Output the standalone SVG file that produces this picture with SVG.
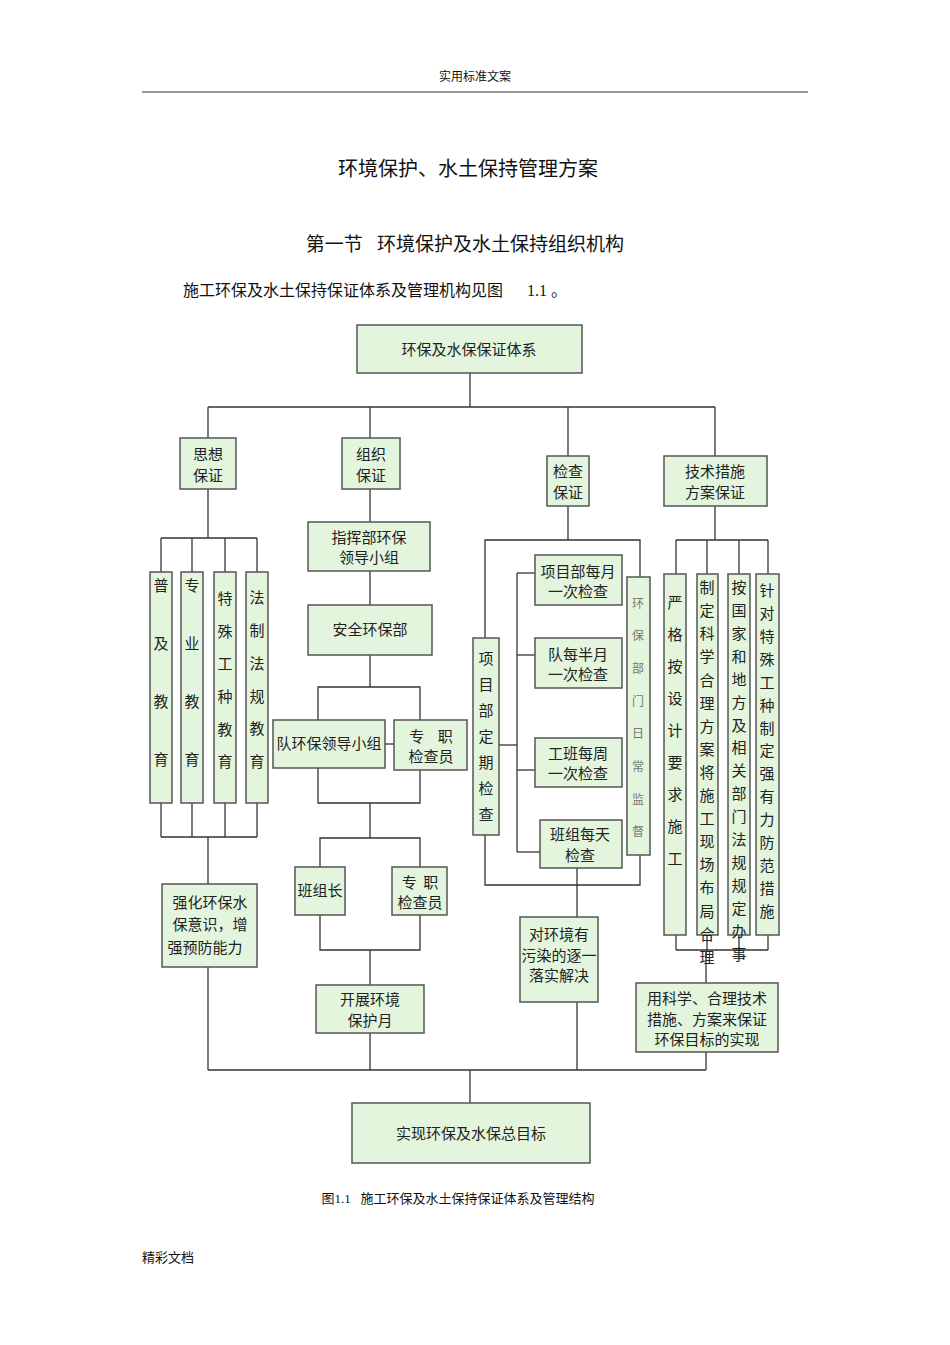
<svg xmlns="http://www.w3.org/2000/svg" width="950" height="1345" viewBox="0 0 950 1345">
<style>
.b{fill:#e3f5dd;stroke:#555;stroke-width:1.5}
.t{font-family:"Noto Sans CJK SC",sans-serif;font-size:15px;fill:#222;text-anchor:middle}
.v{font-family:"Noto Sans CJK SC",sans-serif;font-size:15px;fill:#222;writing-mode:vertical-rl}
.c line,.c polyline{stroke:#333;stroke-width:1.3;fill:none}
.d{font-family:"Liberation Serif","Noto Sans CJK SC",serif;fill:#111;text-anchor:middle}
</style>
<rect width="950" height="1345" fill="#fff"/>
<text class="d" x="475" y="81" font-size="12">实用标准文案</text>
<line x1="142" y1="92" x2="808" y2="92" stroke="#333"/>
<text class="d" x="468" y="176" font-size="20">环境保护、水土保持管理方案</text>
<text class="d" x="465" y="251" font-size="19" xml:space="preserve">第一节   环境保护及水土保持组织机构</text>
<text class="d" x="183" y="296" font-size="16" style="text-anchor:start" xml:space="preserve">施工环保及水土保持保证体系及管理机构见图      1.1 。</text>
<text class="d" x="458" y="1203" font-size="13" xml:space="preserve">图1.1   施工环保及水土保持保证体系及管理结构</text>
<text class="d" x="142" y="1262" font-size="13" style="text-anchor:start">精彩文档</text>
<g class="c">
<line x1="470" y1="373" x2="470" y2="407"/><line x1="208" y1="407" x2="715" y2="407"/>
<line x1="208" y1="407" x2="208" y2="438"/><line x1="370" y1="407" x2="370" y2="438"/><line x1="568" y1="407" x2="568" y2="456"/><line x1="715" y1="407" x2="715" y2="456"/>
<line x1="208" y1="489" x2="208" y2="538"/><line x1="161" y1="538" x2="257" y2="538"/>
<line x1="161" y1="538" x2="161" y2="572"/><line x1="192" y1="538" x2="192" y2="572"/><line x1="225" y1="538" x2="225" y2="572"/><line x1="257" y1="538" x2="257" y2="572"/>
<line x1="161" y1="803" x2="161" y2="837"/><line x1="192" y1="803" x2="192" y2="837"/><line x1="225" y1="803" x2="225" y2="837"/><line x1="257" y1="803" x2="257" y2="837"/>
<line x1="161" y1="837" x2="257" y2="837"/><line x1="208" y1="837" x2="208" y2="884"/>
<line x1="208" y1="967" x2="208" y2="1070"/><line x1="208" y1="1070" x2="706" y2="1070"/><line x1="470" y1="1070" x2="470" y2="1103"/>
<line x1="370" y1="489" x2="370" y2="522"/><line x1="370" y1="571" x2="370" y2="605"/><line x1="370" y1="655" x2="370" y2="687"/>
<polyline points="318,720 318,687 420,687 420,720"/><line x1="385" y1="744" x2="394" y2="744"/>
<polyline points="318,768 318,803 420,803 420,770"/><line x1="370" y1="803" x2="370" y2="838"/>
<polyline points="320,867 320,838 420,838 420,867"/>
<polyline points="320,915 320,950 420,950 420,915"/><line x1="370" y1="950" x2="370" y2="985"/><line x1="370" y1="1033" x2="370" y2="1070"/>
<line x1="568" y1="506" x2="568" y2="540"/><polyline points="485,638 485,540 640,540 640,577"/>
<polyline points="485,835 485,885 640,885 640,855"/>
<line x1="499" y1="745" x2="517" y2="745"/><line x1="517" y1="573" x2="517" y2="852"/>
<line x1="517" y1="573" x2="535" y2="573"/><line x1="517" y1="655" x2="535" y2="655"/><line x1="517" y1="770" x2="535" y2="770"/><line x1="517" y1="852" x2="540" y2="852"/>
<line x1="577" y1="868" x2="577" y2="917"/><line x1="577" y1="1002" x2="577" y2="1070"/>
<line x1="715" y1="506" x2="715" y2="540"/><line x1="676" y1="540" x2="768" y2="540"/>
<line x1="676" y1="540" x2="676" y2="574"/><line x1="707" y1="540" x2="707" y2="574"/><line x1="739" y1="540" x2="739" y2="574"/><line x1="768" y1="540" x2="768" y2="574"/>
<line x1="676" y1="935" x2="676" y2="950"/><line x1="707" y1="935" x2="707" y2="950"/><line x1="739" y1="935" x2="739" y2="950"/><line x1="768" y1="935" x2="768" y2="950"/>
<line x1="676" y1="950" x2="768" y2="950"/><line x1="706" y1="950" x2="706" y2="983"/><line x1="706" y1="1052" x2="706" y2="1070"/>
</g>
<g id="n-top"><rect class="b" x="357" y="325" width="225" height="48"/><text class="t" x="469" y="355">环保及水保保证体系</text></g>
<g id="n-sx"><rect class="b" x="180" y="438" width="56" height="51"/><text class="t" x="208" y="460">思想</text><text class="t" x="208" y="481">保证</text></g>
<g id="n-zz"><rect class="b" x="342" y="438" width="58" height="51"/><text class="t" x="371" y="460">组织</text><text class="t" x="371" y="481">保证</text></g>
<g id="n-jc"><rect class="b" x="547" y="456" width="42" height="50"/><text class="t" x="568" y="477">检查</text><text class="t" x="568" y="498">保证</text></g>
<g id="n-js"><rect class="b" x="664" y="456" width="103" height="50"/><text class="t" x="715" y="477">技术措施</text><text class="t" x="715" y="498">方案保证</text></g>
<g id="n-c1"><rect class="b" x="150" y="572" width="22" height="231"/><text class="v" x="161" y="578" letter-spacing="43">普及教育</text></g>
<g id="n-c2"><rect class="b" x="181" y="572" width="22" height="231"/><text class="v" x="192" y="578" letter-spacing="43">专业教育</text></g>
<g id="n-c3"><rect class="b" x="214" y="572" width="22" height="231"/><text class="v" x="225" y="591" letter-spacing="17.6">特殊工种教育</text></g>
<g id="n-c4"><rect class="b" x="246" y="572" width="22" height="231"/><text class="v" x="257" y="590" letter-spacing="17.8">法制法规教育</text></g>
<g id="n-qh"><rect class="b" x="162" y="884" width="95" height="83"/><text class="t" x="210" y="908">强化环保水</text><text class="t" x="210" y="930">保意识，增</text><text class="t" x="205" y="953">强预防能力</text></g>
<g id="n-zh"><rect class="b" x="308" y="522" width="122" height="49"/><text class="t" x="369" y="543">指挥部环保</text><text class="t" x="369" y="563">领导小组</text></g>
<g id="n-aq"><rect class="b" x="308" y="605" width="124" height="50"/><text class="t" x="370" y="635">安全环保部</text></g>
<g id="n-dh"><rect class="b" x="273" y="720" width="112" height="48"/><text class="t" x="329" y="749">队环保领导小组</text></g>
<g id="n-zj1"><rect class="b" x="394" y="720" width="73" height="50"/><text class="t" x="431" y="742" xml:space="preserve">专    职</text><text class="t" x="431" y="762">检查员</text></g>
<g id="n-bz"><rect class="b" x="295" y="867" width="50" height="48"/><text class="t" x="320" y="896">班组长</text></g>
<g id="n-zj2"><rect class="b" x="392" y="867" width="55" height="48"/><text class="t" x="420" y="888" xml:space="preserve">专  职</text><text class="t" x="420" y="908">检查员</text></g>
<g id="n-kz"><rect class="b" x="316" y="985" width="108" height="48"/><text class="t" x="370" y="1005">开展环境</text><text class="t" x="370" y="1026">保护月</text></g>
<g id="n-xm"><rect class="b" x="473" y="638" width="26" height="197"/><text class="v" x="486" y="651" letter-spacing="11">项目部定期检查</text></g>
<g id="n-m1"><rect class="b" x="535" y="555" width="87" height="50"/><text class="t" x="578" y="577">项目部每月</text><text class="t" x="578" y="597">一次检查</text></g>
<g id="n-m2"><rect class="b" x="535" y="638" width="87" height="50"/><text class="t" x="578" y="660">队每半月</text><text class="t" x="578" y="680">一次检查</text></g>
<g id="n-m3"><rect class="b" x="535" y="738" width="87" height="49"/><text class="t" x="578" y="759">工班每周</text><text class="t" x="578" y="779">一次检查</text></g>
<g id="n-m4"><rect class="b" x="540" y="820" width="82" height="48"/><text class="t" x="580" y="840">班组每天</text><text class="t" x="580" y="861">检查</text></g>
<g id="n-hb"><rect class="b" x="627" y="577" width="23" height="278"/><text class="v" x="638" y="597" letter-spacing="20.7" style="font-size:12px;fill:#777">环保部门日常监督</text></g>
<g id="n-dhj"><rect class="b" x="520" y="917" width="78" height="85"/><text class="t" x="559" y="940">对环境有</text><text class="t" x="559" y="961">污染的逐一</text><text class="t" x="559" y="981">落实解决</text></g>
<g id="n-r1"><rect class="b" x="664" y="574" width="22" height="361"/><text class="v" x="675" y="595" letter-spacing="17">严格按设计要求施工</text></g>
<g id="n-r2"><rect class="b" x="697" y="540" width="21" height="395" style="display:none"/><rect class="b" x="697" y="574" width="21" height="361"/><text class="v" x="707" y="580" letter-spacing="8.1">制定科学合理方案将施工现场布局合理</text></g>
<g id="n-r3"><rect class="b" x="728" y="574" width="22" height="361"/><text class="v" x="739" y="580" letter-spacing="7.9">按国家和地方及相关部门法规规定办事</text></g>
<g id="n-r4"><rect class="b" x="756" y="574" width="23" height="361"/><text class="v" x="767" y="583" letter-spacing="7.9">针对特殊工种制定强有力防范措施</text></g>
<g id="n-ky"><rect class="b" x="636" y="983" width="142" height="69"/><text class="t" x="707" y="1004">用科学、合理技术</text><text class="t" x="707" y="1025">措施、方案来保证</text><text class="t" x="707" y="1045">环保目标的实现</text></g>
<g id="n-end"><rect class="b" x="352" y="1103" width="238" height="60"/><text class="t" x="471" y="1139">实现环保及水保总目标</text></g>
</svg>
